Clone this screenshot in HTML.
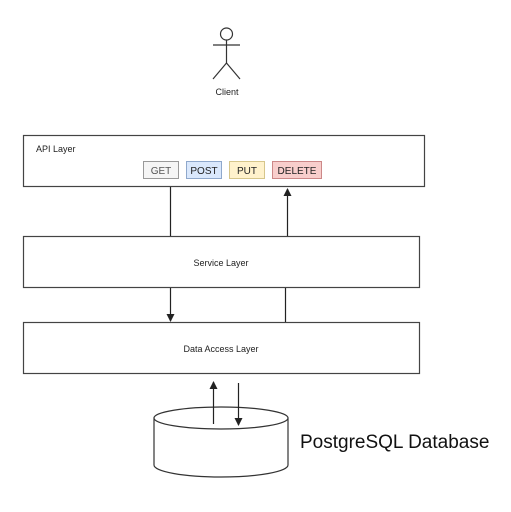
<!DOCTYPE html>
<html><head><style>body{margin:0;background:#fff}</style></head><body>
<svg width="511" height="507" xmlns="http://www.w3.org/2000/svg" font-family="Liberation Sans, sans-serif">
<defs><marker id="a" markerWidth="8" markerHeight="8" refX="7" refY="4" orient="auto" markerUnits="userSpaceOnUse"><path d="M0,0 L8,4 L0,8 Z" fill="#222"/></marker></defs>
<g stroke="#333" stroke-width="1.2" fill="none">
<circle cx="226.5" cy="34" r="6"/>
<line x1="226.5" y1="40" x2="226.5" y2="63"/>
<line x1="213" y1="45" x2="240" y2="45"/>
<line x1="226.5" y1="63" x2="213" y2="79"/>
<line x1="226.5" y1="63" x2="240" y2="79"/>
</g>
<text x="227" y="95" font-size="9" text-anchor="middle" fill="#222">Client</text>
<g stroke="#444" stroke-width="1.2" fill="#fff">
<rect x="23.5" y="135.5" width="401" height="51"/>
<rect x="23.5" y="236.5" width="396" height="51"/>
<rect x="23.5" y="322.5" width="396" height="51"/>
</g>
<text x="36" y="152" font-size="9" fill="#222">API Layer</text>
<g font-size="10" text-anchor="middle" stroke-width="1">
<rect x="143.5" y="161.5" width="35" height="17" fill="#f5f5f5" stroke="#999"/><text x="161" y="174" fill="#555">GET</text>
<rect x="186.5" y="161.5" width="35" height="17" fill="#dae8fc" stroke="#8fa8cc"/><text x="204" y="174" fill="#222">POST</text>
<rect x="229.5" y="161.5" width="35" height="17" fill="#fff2cc" stroke="#d6c68b"/><text x="247" y="174" fill="#222">PUT</text>
<rect x="272.5" y="161.5" width="49" height="17" fill="#f8cecc" stroke="#c88"/><text x="297" y="174" fill="#222">DELETE</text>
</g>
<text x="221" y="266" font-size="9" text-anchor="middle" fill="#222">Service Layer</text>
<text x="221" y="352" font-size="9" text-anchor="middle" fill="#222">Data Access Layer</text>
<g stroke="#222" stroke-width="1.2">
<line x1="170.5" y1="187" x2="170.5" y2="236"/>
<line x1="287.5" y1="236" x2="287.5" y2="189" marker-end="url(#a)"/>
<line x1="170.5" y1="288" x2="170.5" y2="321" marker-end="url(#a)"/>
<line x1="285.5" y1="288" x2="285.5" y2="322"/>
</g>
<g stroke="#333" stroke-width="1.2" fill="#fff">
<path d="M154,418 L154,465 A67,12 0 0 0 288,465 L288,418"/>
<ellipse cx="221" cy="418" rx="67" ry="11"/>
</g>
<g stroke="#222" stroke-width="1.2">
<line x1="213.5" y1="424" x2="213.5" y2="382" marker-end="url(#a)"/>
<line x1="238.5" y1="383" x2="238.5" y2="425" marker-end="url(#a)"/>
</g>
<text x="300" y="448" font-size="19" fill="#111">PostgreSQL Database</text>
</svg>
</body></html>
